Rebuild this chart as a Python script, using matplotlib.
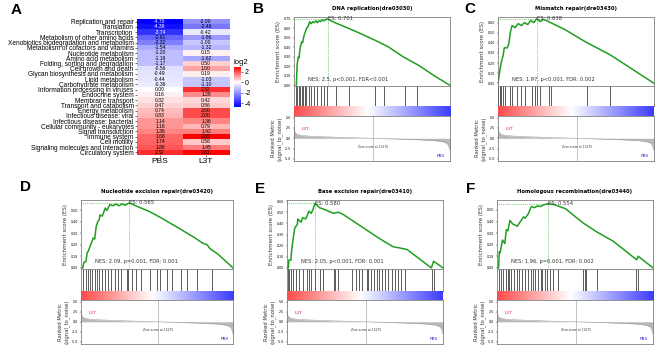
import numpy as np
import matplotlib
matplotlib.use("Agg")
import matplotlib.pyplot as plt
from matplotlib.colors import LinearSegmentedColormap, Normalize

# ---------------- data : panel A ----------------
pathways = ["Replication and repair", "Translation", "Transcription",
            "Metabolism of other amino acids", "Xenobiotics biodegradation and metabolism",
            "Metabolism of cofactors and vitamins", "Nucleotide metabolism",
            "Amino acid metabolism", "Folding, sorting and degradation",
            "Cell growth and death", "Glycan biosynthesis and metabolism",
            "Lipid metabolism", "Carbohydrate metabolism",
            "Information processing in viruses", "Endocrine system",
            "Membrane transport", "Transport and catabolism", "Energy metabolism",
            "Infectious disease: viral", "Infectious disease: bacterial",
            "Cellular community - eukaryotes", "Signal transduction",
            "Immune system", "Cell motility", "Signaling molecules and interaction",
            "Circulatory system"]
groups = ["PBS", "L3T"]
pbs_vals = [-4.70, -4.39, -3.74, -2.81, -2.32, -1.54, -1.20, -1.19, -1.17, -0.56,
            -0.49, -0.44, -0.36, 0.00, 0.16, 0.32, 0.47, 0.74, 0.83, 1.14, 1.16,
            1.36, 1.68, 1.74, 1.86, 2.32]
l3t_vals = [-2.00, -2.46, -0.42, -1.86, -1.00, -1.32, 0.15, -1.62, 0.50, 1.00,
            0.19, -1.03, -1.10, 2.32, 1.28, 0.42, 0.56, 2.00, 2.00, 1.36, 0.79,
            1.42, 2.85, 0.58, 1.45, 2.81]
cbar_ticks = [2, 0, -2, -4]

# ---------------- data : GSEA panels ----------------
N_RANK = 26250
ZERO_RANK = 13275
rank_frac = [0.0, 0.005, 0.01, 0.02, 0.04, 0.07, 0.1, 0.2, 0.3, 0.4, 0.506,
             0.6, 0.7, 0.8, 0.9, 0.95, 0.98, 0.99, 1.0]
rank_metric = [2.3, 1.6, 1.25, 0.95, 0.75, 0.62, 0.52, 0.36, 0.23, 0.11, 0.0,
               -0.1, -0.22, -0.36, -0.55, -0.8, -1.2, -1.7, -3.0]

B_title = "DNA replication(dre03030)"
B_es_x = [0.015, 0.02, 0.028, 0.032, 0.04, 0.05, 0.055, 0.065, 0.07, 0.08, 0.09, 0.10,
          0.11, 0.12, 0.13, 0.14, 0.15, 0.16, 0.17, 0.18, 0.19, 0.2, 0.215, 0.23, 0.25,
          0.27, 0.3, 0.4, 0.5, 0.6, 0.7, 0.8, 0.9, 1.0]
B_es_y = [0.0, 0.22, 0.30, 0.29, 0.40, 0.46, 0.45, 0.53, 0.55, 0.60, 0.62, 0.67,
          0.65, 0.67, 0.66, 0.68, 0.66, 0.68, 0.67, 0.69, 0.68, 0.69, 0.701, 0.685, 0.67,
          0.655, 0.635, 0.565, 0.49, 0.41, 0.30, 0.21, 0.10, 0.0]
B_hits = [0.012, 0.02, 0.03, 0.04, 0.05, 0.06, 0.07, 0.08, 0.095, 0.11, 0.13, 0.15,
          0.17, 0.19, 0.21, 0.27, 0.35, 0.52, 0.575, 0.71, 0.79]
B_peak = (0.215, 0.701)
B_nes = "NES: 2.5, p<0.001, FDR<0.001"

C_title = "Mismatch repair(dre03430)"
C_es_x = [0.0, 0.01, 0.02, 0.035, 0.04, 0.06, 0.07, 0.08, 0.09, 0.11, 0.13, 0.15,
          0.17, 0.19, 0.21, 0.23, 0.248, 0.27, 0.29, 0.31, 0.43, 0.56, 0.72, 1.0]
C_es_y = [0.0, 0.11, 0.20, 0.29, 0.35, 0.35, 0.40, 0.51, 0.57, 0.55, 0.59, 0.57,
          0.60, 0.58, 0.62, 0.60, 0.638, 0.61, 0.63, 0.62, 0.53, 0.41, 0.28, 0.0]
C_hits = [0.003, 0.01, 0.02, 0.03, 0.045, 0.077, 0.088, 0.12, 0.15, 0.17, 0.22,
          0.24, 0.25, 0.27, 0.33, 0.34, 0.57, 0.715]
C_peak = (0.248, 0.638)
C_nes = "NES: 1.97, p<0.001, FDR: 0.002"

D_title = "Nucleotide excision repair(dre03420)"
D_es_x = [0.011, 0.02, 0.033, 0.04, 0.05, 0.06, 0.07, 0.08, 0.09, 0.10, 0.11, 0.12,
          0.125, 0.14, 0.16, 0.17, 0.19, 0.21, 0.23, 0.25, 0.27, 0.29, 0.318, 0.36,
          0.45, 0.52, 0.65, 0.70, 0.75, 0.80, 0.83, 0.85, 0.9, 1.0]
D_es_y = [0.0, 0.05, 0.055, 0.13, 0.15, 0.19, 0.22, 0.26, 0.25, 0.36, 0.40, 0.42,
          0.46, 0.45, 0.52, 0.50, 0.55, 0.54, 0.555, 0.54, 0.555, 0.545, 0.565, 0.54,
          0.49, 0.44, 0.34, 0.30, 0.26, 0.215, 0.20, 0.165, 0.12, 0.0]
D_hits = [0.015, 0.03, 0.045, 0.06, 0.075, 0.092, 0.105, 0.12, 0.14, 0.155, 0.18,
          0.2, 0.225, 0.245, 0.265, 0.3, 0.31, 0.335, 0.36, 0.395, 0.454, 0.5, 0.52,
          0.564, 0.6, 0.66, 0.7, 0.76, 0.86]
D_peak = (0.318, 0.565)
D_nes = "NES: 2.09, p=0.001, FDR: 0.001"

E_title = "Base excision repair(dre03410)"
E_es_x = [0.008, 0.012, 0.025, 0.03, 0.04, 0.05, 0.066, 0.07, 0.09, 0.10, 0.12, 0.13,
          0.14, 0.155, 0.165, 0.18, 0.21, 0.25, 0.28, 0.30, 0.33, 0.36, 0.425, 0.5,
          0.575, 0.62, 0.68, 0.72, 0.77, 0.85, 0.925, 0.94, 1.0]
E_es_y = [0.0, 0.07, 0.07, 0.16, 0.27, 0.36, 0.39, 0.44, 0.41, 0.45, 0.44, 0.47,
          0.51, 0.49, 0.52, 0.58, 0.54, 0.52, 0.50, 0.49, 0.50, 0.48, 0.42, 0.35,
          0.28, 0.24, 0.19, 0.18, 0.165, 0.08, 0.0, 0.06, 0.0]
E_hits = [0.008, 0.015, 0.025, 0.04, 0.06, 0.08, 0.1, 0.13, 0.14, 0.155, 0.18, 0.21,
          0.23, 0.30, 0.31, 0.33, 0.415, 0.44, 0.46, 0.48, 0.51, 0.52, 0.54, 0.56,
          0.58, 0.59, 0.61, 0.63, 0.65, 0.67, 0.69, 0.71, 0.73, 0.756, 0.927, 0.94]
E_peak = (0.18, 0.580)
E_nes = "NES: 2.05, p<0.001, FDR: 0.001"

F_title = "Homologous recombination(dre03440)"
F_es_x = [0.01, 0.015, 0.02, 0.035, 0.05, 0.06, 0.07, 0.083, 0.1, 0.13, 0.15, 0.17,
          0.18, 0.2, 0.22, 0.24, 0.26, 0.28, 0.3, 0.325, 0.35, 0.37, 0.44, 0.49,
          0.555, 0.64, 0.745, 0.895, 0.905, 1.0]
F_es_y = [0.0, 0.14, 0.13, 0.24, 0.21, 0.33, 0.32, 0.41, 0.38, 0.36, 0.40, 0.44,
          0.43, 0.465, 0.53, 0.52, 0.535, 0.53, 0.545, 0.554, 0.55, 0.545, 0.51, 0.455,
          0.385, 0.31, 0.23, 0.07, 0.10, 0.0]
F_hits = [0.015, 0.025, 0.04, 0.055, 0.07, 0.08, 0.09, 0.11, 0.13, 0.14, 0.16, 0.18,
          0.2, 0.215, 0.23, 0.245, 0.265, 0.28, 0.29, 0.305, 0.32, 0.34, 0.36, 0.39,
          0.553, 0.563, 0.573, 0.643, 0.894, 0.905]
F_peak = (0.325, 0.554)
F_nes = "NES: 1.96, p=0.001, FDR: 0.002"

# ---------------- figure ----------------
W, H = 656, 349
plt.rcParams['font.family'] = ['DejaVu Sans']
plt.rcParams['axes.unicode_minus'] = False
fig = plt.figure(figsize=(W / 100, H / 100), dpi=100)


def ax_px(x0, y0, x1, y1):
    return fig.add_axes([x0 / W, 1 - y1 / H, (x1 - x0) / W, (y1 - y0) / H])


# ---- panel A heatmap ----
data = np.array([pbs_vals, l3t_vals]).T
vmin, vmax = -4.7, 2.85
zpos = (0 - vmin) / (vmax - vmin)
hm_cmap = LinearSegmentedColormap.from_list(
    "bwr0", [(0, "#0000ff"), (zpos, "#ffffff"), (1, "#ff0000")])
axA = ax_px(137, 19, 229, 155)
im = axA.imshow(data, cmap=hm_cmap, norm=Normalize(vmin, vmax), aspect="auto",
                interpolation="nearest")
for i in range(data.shape[0]):
    for j in range(data.shape[1]):
        v = data[i, j]
        axA.text(j, i, f"{v:.2f}", ha="center", va="center", fontsize=3.6,
                 family="Liberation Sans", color="white" if v < -3 else "black")
axA.set_yticks(range(len(pathways)))
axA.set_yticklabels(pathways, fontsize=4.7, family="Liberation Sans")
axA.set_xticks(range(len(groups)))
axA.set_xticklabels(groups, fontsize=6, family="Liberation Sans")
axA.tick_params(length=1.5, width=0.4, pad=1)
for s in axA.spines.values():
    s.set_visible(False)

cax = ax_px(234, 67, 241, 107)
cb = fig.colorbar(im, cax=cax, ticks=cbar_ticks)
cb.outline.set_visible(False)
cb.ax.set_yticklabels([str(t) for t in cbar_ticks])
cb.ax.tick_params(labelsize=5, length=1.5, width=0.4, pad=1)
for t in cb.ax.get_yticklabels():
    t.set_family("Liberation Sans")
fig.text(233 / W, 1 - 62 / H, "log2", fontsize=5.5, family="Liberation Sans",
         va="center", ha="left")

# ---- GSEA panels ----
green = "#1f9e1f"
grad_cmap = LinearSegmentedColormap.from_list(
    "rb", [(0, "#ff4a4a"), (0.47, "#ffffff"), (1, "#3c3cff")])
spine_c = "#666666"


def style(ax):
    for s in ax.spines.values():
        s.set_color(spine_c)
        s.set_linewidth(0.5)


def gsea(x0, x1, rows, title, es_x, es_y, hits, peak, nes, ylim, ytop):
    (e0, e1), (h0, h1), (g0, g1), (r0, r1) = rows
    # enrichment score
    ax = ax_px(x0, e0, x1, e1)
    ax.plot(np.array(es_x) * N_RANK, es_y, color=green, lw=1.1)
    px, py = peak[0] * N_RANK, peak[1]
    ax.plot([0, px], [py, py], color=green, lw=0.5, ls=":")
    ax.plot([px, px], [ylim[0], py], color=green, lw=0.5, ls=":")
    ax.text(px, py, f"ES: {peak[1]:.3f}", fontsize=3.8, ha="left", va="center",
            color="#333333")
    ax.text(0.09 * N_RANK, 0.035 * (ylim[1] - ylim[0]) + ylim[0] + 0.02, nes,
            fontsize=3.7, ha="left", va="bottom", color="#333333")
    ax.set_xlim(0, N_RANK)
    ax.set_ylim(*ylim)
    ax.set_xticks([])
    yt = np.arange(0, ytop + 0.001, 0.1)
    ax.set_yticks(yt)
    ax.set_yticklabels([f"{v:.2f}" for v in yt])
    ax.tick_params(labelsize=2.3, length=1, width=0.3, pad=1)
    ax.set_ylabel("Enrichment score (ES)", fontsize=4.0, labelpad=2,
                  color="#333333")
    ax.set_title(title, fontsize=3.8, fontweight="bold", pad=5)
    style(ax)
    # hits
    axh = ax_px(x0, h0, x1, h1)
    axh.vlines(np.array(hits) * N_RANK, 0, 1, color="#1a1a1a", lw=0.5)
    axh.set_xlim(0, N_RANK)
    axh.set_ylim(0, 1)
    axh.set_xticks([])
    axh.set_yticks([])
    style(axh)
    # gradient
    axg = ax_px(x0, g0, x1, g1)
    axg.imshow(np.linspace(0, 1, 256)[None, :], cmap=grad_cmap, aspect="auto",
               extent=(0, N_RANK, 0, 1))
    axg.set_axis_off()
    # ranked metric
    axr = ax_px(x0, r0, x1, r1)
    rx = np.array(rank_frac) * N_RANK
    axr.fill_between(rx, rank_metric, 0, color="#b8b8b8", lw=0)
    axr.plot(rx, rank_metric, color="#a0a0a0", lw=0.4)
    axr.axvline(ZERO_RANK, color="#999999", lw=0.4)
    axr.text(ZERO_RANK, -2.0, f"Zero score at {ZERO_RANK}", fontsize=2.2,
             ha="center", va="center", color="#333333")
    axr.text(0.05 * N_RANK, 2.3, "L3T", fontsize=3.2, color="#d03030",
             ha="left", va="center")
    axr.text(0.97 * N_RANK, -4.3, "PBS", fontsize=3.2, color="#3030c0",
             ha="right", va="center")
    axr.set_xlim(0, N_RANK)
    axr.set_ylim(-5.5, 5.4)
    axr.set_xticks([])
    axr.set_yticks([5, 2.5, 0, -2.5, -5])
    axr.set_yticklabels(["5.0", "2.5", "0.0", "-2.5", "-5.0"])
    axr.tick_params(labelsize=2.3, length=1, width=0.3, pad=1)
    axr.set_ylabel("Ranked Metric\n(signal_to_noise)", fontsize=3.8, labelpad=2,
                   color="#333333", linespacing=1.0)
    style(axr)


top_rows = ((17, 86), (86, 106), (106, 116), (116, 161))
bot_rows = ((200, 269), (269, 291), (291, 300), (300, 344))

gsea(294, 450, top_rows, B_title, B_es_x, B_es_y, B_hits, B_peak, B_nes,
     (-0.007, 0.72), 0.7)
gsea(498, 654, top_rows, C_title, C_es_x, C_es_y, C_hits, C_peak, C_nes,
     (-0.027, 0.655), 0.6)
gsea(81, 233, bot_rows, D_title, D_es_x, D_es_y, D_hits, D_peak, D_nes,
     (-0.01, 0.59), 0.5)
gsea(287, 443, bot_rows, E_title, E_es_x, E_es_y, E_hits, E_peak, E_nes,
     (-0.01, 0.61), 0.6)
gsea(497, 653, bot_rows, F_title, F_es_x, F_es_y, F_hits, F_peak, F_nes,
     (-0.01, 0.586), 0.5)

# panel letters
for lab, x, y in [("A", 11, 3), ("B", 253, 2), ("C", 464, 2),
                  ("D", 20, 180), ("E", 255, 182), ("F", 466, 182)]:
    fig.text(x / W, 1 - y / H, lab, fontsize=11, fontweight="bold",
             family="Liberation Sans", ha="left", va="top")

fig.savefig("out.png", dpi=100)
